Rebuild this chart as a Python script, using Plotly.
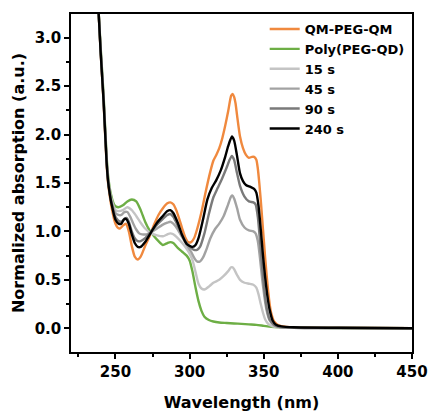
import plotly.graph_objects as go

# ---------------- data ----------------
qm_x = [238.5, 240, 242, 244, 245, 246, 247, 248, 249, 250, 251.5, 253, 255, 257, 259, 261, 263, 265, 267, 270, 273, 276, 279, 282, 285, 287, 289, 291, 293, 295, 297, 299, 301, 303, 305, 308, 311, 314, 316, 318, 320, 322, 324, 326, 328, 329, 330, 331, 332, 334, 336, 338, 340, 342, 343.5, 345, 346, 347, 348, 349, 350, 351, 352, 353, 354, 355, 357, 360, 365, 375, 400, 450]
qm_y = [3.3, 2.85, 2.33, 1.70, 1.50, 1.38, 1.28, 1.20, 1.13, 1.08, 1.04, 1.03, 1.06, 1.08, 1.0, 0.85, 0.74, 0.71, 0.74, 0.85, 0.95, 1.07, 1.17, 1.24, 1.29, 1.30, 1.28, 1.22, 1.13, 1.03, 0.94, 0.89, 0.89, 0.93, 1.02, 1.20, 1.42, 1.62, 1.73, 1.79, 1.86, 1.96, 2.09, 2.24, 2.40, 2.42, 2.39, 2.32, 2.20, 1.98, 1.86, 1.79, 1.76, 1.77, 1.77, 1.74, 1.65, 1.50, 1.32, 1.12, 0.92, 0.72, 0.54, 0.38, 0.25, 0.16, 0.07, 0.03, 0.015, 0.01, 0.005, 0.0]

pq_x = [238.5, 240, 242, 244, 245, 246, 247, 248, 249, 250, 252, 255, 258, 261, 264, 267, 270, 273, 276, 279, 282, 285, 287, 289, 292, 295, 298, 300, 302, 304, 306, 308, 310, 313, 316, 320, 325, 330, 335, 340, 345, 350, 355, 360, 370, 400, 450]
pq_y = [3.3, 2.9, 2.4, 1.78, 1.58, 1.46, 1.38, 1.32, 1.28, 1.26, 1.25, 1.27, 1.31, 1.33, 1.31, 1.22, 1.10, 1.01, 0.95, 0.90, 0.86, 0.88, 0.89, 0.88, 0.83, 0.79, 0.75, 0.70, 0.58, 0.42, 0.28, 0.18, 0.12, 0.085, 0.07, 0.06, 0.055, 0.05, 0.045, 0.04, 0.035, 0.025, 0.015, 0.01, 0.005, 0.003, 0.0]

s15_x = [238.5, 240, 242, 244, 245, 246, 247, 248, 249, 250, 252, 255, 258, 261, 264, 267, 270, 274, 278, 282, 285, 287, 289, 292, 295, 298, 300, 302, 304, 306, 308, 310, 313, 316, 320, 323, 326, 328, 329, 330, 332, 334, 337, 340, 343, 345, 346.5, 348, 349.5, 351, 353, 356, 360, 370, 400, 450]
s15_y = [3.3, 2.88, 2.37, 1.75, 1.55, 1.43, 1.35, 1.30, 1.25, 1.22, 1.21, 1.22, 1.25, 1.22, 1.16, 1.09, 1.03, 0.98, 0.96, 0.95, 0.97, 0.98, 0.97, 0.93, 0.88, 0.82, 0.77, 0.70, 0.58, 0.46, 0.41, 0.40, 0.43, 0.47, 0.50, 0.54, 0.59, 0.63, 0.63, 0.61, 0.55, 0.50, 0.47, 0.46, 0.45, 0.42, 0.35, 0.25, 0.16, 0.09, 0.045, 0.02, 0.01, 0.005, 0.003, 0.0]

s45_x = [238.5, 240, 242, 244, 245, 246, 247, 248, 249, 250, 252, 254, 256, 258, 260, 262, 264, 266, 268, 271, 274, 278, 282, 285, 287, 289, 292, 295, 298, 301, 303, 305, 307, 309, 311, 314, 317, 320, 323, 326, 328, 329, 330, 332, 334, 337, 340, 343, 344.5, 346, 347.5, 349, 350.5, 352, 354, 357, 360, 370, 400, 450]
s45_y = [3.3, 2.87, 2.36, 1.74, 1.54, 1.42, 1.33, 1.27, 1.22, 1.19, 1.17, 1.17, 1.20, 1.20, 1.15, 1.08, 1.02, 0.98, 0.97, 0.97, 0.99, 1.03, 1.07, 1.09, 1.10, 1.08, 1.02, 0.94, 0.86, 0.79, 0.73, 0.69, 0.69, 0.73, 0.80, 0.93, 1.02, 1.08, 1.16, 1.28, 1.36, 1.37, 1.34, 1.24, 1.12, 1.04, 1.01, 1.00, 0.98, 0.90, 0.72, 0.50, 0.32, 0.18, 0.08, 0.03, 0.015, 0.006, 0.003, 0.0]

s90_x = [238.5, 240, 242, 244, 245, 246, 247, 248, 249, 250, 252, 254, 256, 257.5, 259, 261, 263, 265, 267, 270, 274, 278, 282, 285, 287, 289, 292, 295, 298, 301, 303, 305, 307, 310, 313, 316, 319, 322, 325, 327, 328.5, 330, 332, 334, 337, 340, 343, 344.5, 346, 347.5, 349, 350.5, 352, 354, 357, 360, 370, 400, 450]
s90_y = [3.3, 2.86, 2.35, 1.73, 1.53, 1.41, 1.32, 1.25, 1.19, 1.15, 1.11, 1.10, 1.13, 1.14, 1.10, 1.00, 0.93, 0.90, 0.90, 0.93, 1.00, 1.07, 1.13, 1.17, 1.18, 1.15, 1.06, 0.96, 0.88, 0.83, 0.81, 0.81, 0.84, 0.98, 1.18, 1.35, 1.45, 1.55, 1.66, 1.74, 1.78, 1.74, 1.60, 1.47, 1.36, 1.31, 1.30, 1.28, 1.15, 0.90, 0.62, 0.38, 0.21, 0.09, 0.035, 0.015, 0.006, 0.003, 0.0]

s240_x = [238.5, 240, 242, 244, 245, 246, 247, 248, 249, 250, 252, 254, 255.5, 257, 259, 261, 263, 265, 267, 270, 274, 278, 282, 285, 287, 289, 292, 295, 298, 300, 302, 304, 306, 309, 312, 315, 318, 321, 324, 326, 328.5, 330, 332, 334, 336, 338, 341, 343.5, 345, 346.5, 348, 349.5, 351, 352.5, 354, 356, 358, 362, 370, 400, 450]
s240_y = [3.3, 2.85, 2.34, 1.72, 1.52, 1.40, 1.31, 1.24, 1.17, 1.12, 1.08, 1.08, 1.12, 1.13, 1.08, 0.97, 0.88, 0.84, 0.84, 0.89, 0.99, 1.09, 1.16, 1.21, 1.22, 1.19, 1.09, 0.96, 0.87, 0.85, 0.84, 0.86, 0.93, 1.12, 1.33, 1.45, 1.53, 1.63, 1.77, 1.88, 1.98, 1.94, 1.78, 1.60, 1.52, 1.48, 1.46, 1.44, 1.40, 1.26, 1.02, 0.75, 0.52, 0.33, 0.19, 0.08, 0.04, 0.02, 0.01, 0.005, 0.0]

names = ["QM-PEG-QM", "Poly(PEG-QD)", "15 s", "45 s", "90 s", "240 s"]
colors = ["#F0893E", "#6DAE45", "#C4C4C4", "#A2A2A2", "#7A7A7A", "#000000"]
xs = [qm_x, pq_x, s15_x, s45_x, s90_x, s240_x]
ys = [qm_y, pq_y, s15_y, s45_y, s90_y, s240_y]

x_ticks = [250, 300, 350, 400, 450]
y_ticks = [0.0, 0.5, 1.0, 1.5, 2.0, 2.5, 3.0]

# ---------------- figure ----------------
fig = go.Figure()
for n, c, x, y in zip(names, colors, xs, ys):
    fig.add_trace(go.Scatter(x=x, y=y, name=n, mode="lines",
                             line=dict(color=c, width=2.4, shape="spline", smoothing=0.6)))

font = "DejaVu Sans"
fig.update_layout(
    width=429, height=412,
    margin=dict(l=71, r=17, t=14, b=60),
    paper_bgcolor="white", plot_bgcolor="white",
    font=dict(family=font, size=15, color="black", weight="bold"),
    showlegend=True,
    legend=dict(x=0.568, y=1.0, xanchor="left", yanchor="top",
                bgcolor="rgba(0,0,0,0)", borderwidth=0,
                font=dict(family=font, size=13, color="black", weight="bold"),
                tracegroupgap=0),
)
fig.update_xaxes(
    range=[220, 450], tickmode="array", tickvals=x_ticks,
    ticktext=[str(v) for v in x_ticks],
    showgrid=False, zeroline=False, automargin=False,
    showline=True, linecolor="black", linewidth=1.5, mirror=True,
    ticks="outside", ticklen=5, tickwidth=1.5, tickcolor="black",
    minor=dict(ticks="outside", ticklen=3, tickwidth=1.5, tickcolor="black", dtick=25, tick0=225, showgrid=False),
    tickfont=dict(family=font, size=15, color="black", weight="bold"),
    title=dict(text="Wavelength (nm)", standoff=18,
               font=dict(family=font, size=16, color="black", weight="bold")),
)
fig.update_yaxes(
    range=[-0.245, 3.245], tickmode="array", tickvals=y_ticks,
    ticktext=[f"{v:.1f}" for v in y_ticks],
    showgrid=False, zeroline=False, automargin=False,
    showline=True, linecolor="black", linewidth=1.5, mirror=True,
    ticks="outside", ticklen=5, tickwidth=1.5, tickcolor="black",
    minor=dict(ticks="outside", ticklen=3, tickwidth=1.5, tickcolor="black", dtick=0.25, tick0=0, showgrid=False),
    tickfont=dict(family=font, size=15, color="black", weight="bold"),
    title=dict(text="Normalized absorption (a.u.)", standoff=6,
               font=dict(family=font, size=16, color="black", weight="bold")),
)

fig.write_html("out.html")
